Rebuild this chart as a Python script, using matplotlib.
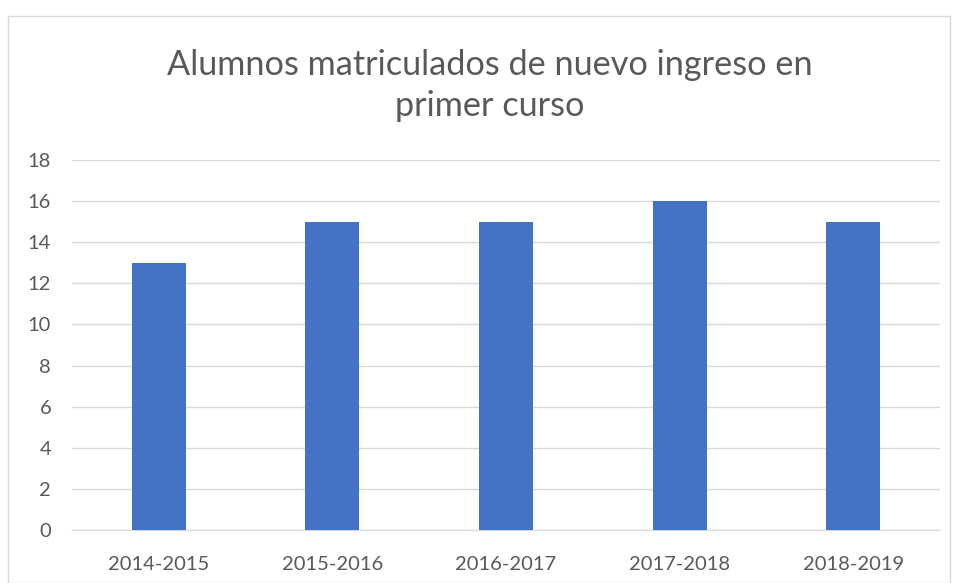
import matplotlib.pyplot as plt
from matplotlib.patches import Rectangle

cursos = ['2014-2015', '2015-2016', '2016-2017', '2017-2018', '2018-2019']
alumnos = [13, 15, 15, 16, 15]
yticks = [0, 2, 4, 6, 8, 10, 12, 14, 16, 18]

plt.rcParams['font.family'] = ['Lato', 'DejaVu Sans']

fig = plt.figure(figsize=(9.56, 5.83), dpi=100)
fig.patches.append(Rectangle((8 / 956, 0), 942 / 956, 567 / 583, transform=fig.transFigure,
                             fill=False, edgecolor='#d9d9d9', linewidth=1))

ax = fig.add_axes([72 / 956, 53 / 583, 868 / 956, 370 / 583])
ax.bar(range(len(cursos)), alumnos, width=0.31, color='#4472C4', zorder=3)
ax.set_xlim(-0.5, len(cursos) - 0.5)
ax.set_ylim(0, 18)
ax.set_yticks(yticks)
ax.set_xticks(range(len(cursos)))
ax.set_xticklabels(cursos)
ax.grid(axis='y', color='#d9d9d9', linewidth=1, zorder=0)
for s in ['top', 'left', 'right']:
    ax.spines[s].set_visible(False)
ax.spines['bottom'].set_color('#d9d9d9')
ax.tick_params(length=0, labelsize=14.5, colors='#595959')
ax.tick_params(axis='y', pad=15)
ax.tick_params(axis='x', pad=19)

fig.text(0.512, 0.853, 'Alumnos matriculados de nuevo ingreso en\nprimer curso',
         ha='center', va='center', fontsize=24.7, color='#595959', linespacing=1.35)

fig.savefig('out.png', dpi=100)
